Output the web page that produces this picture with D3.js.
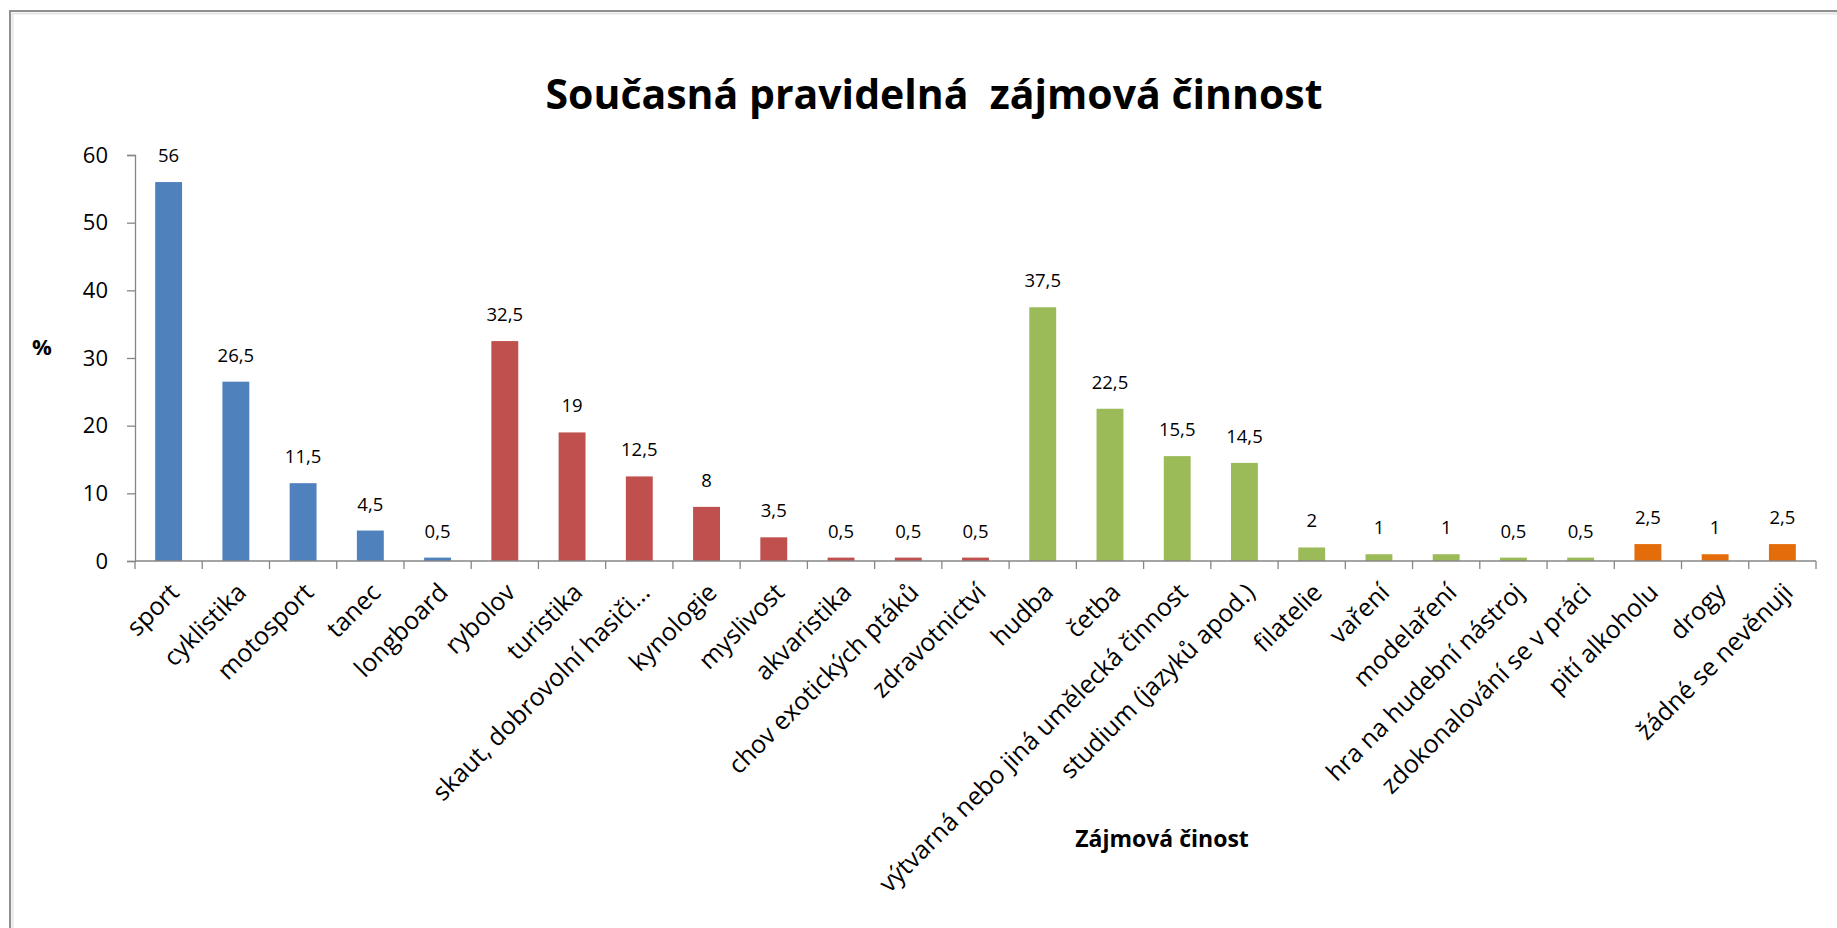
<!DOCTYPE html>
<html>
<head>
<meta charset="utf-8">
<script src="https://cdn.jsdelivr.net/npm/d3@7"></script>
<style>
  html, body { margin: 0; padding: 0; background: #fff; }
  svg { display: block; }
  text { font-family: "Open Sans", "Noto Sans", sans-serif; fill: #000; }
</style>
</head>
<body>
<script>
// ---- data ----
const categories = [
  "sport", "cyklistika", "motosport", "tanec", "longboard",
  "rybolov", "turistika", "skaut, dobrovolní hasiči...", "kynologie", "myslivost",
  "akvaristika", "chov exotických ptáků", "zdravotnictví",
  "hudba", "četba", "výtvarná nebo jiná umělecká činnost", "studium (jazyků apod.)",
  "filatelie", "vaření", "modelaření", "hra na hudební nástroj", "zdokonalování se v práci",
  "pití alkoholu", "drogy", "žádné se nevěnuji"
];
const values = [
  56, 26.5, 11.5, 4.5, 0.5,
  32.5, 19, 12.5, 8, 3.5,
  0.5, 0.5, 0.5,
  37.5, 22.5, 15.5, 14.5,
  2, 1, 1, 0.5, 0.5,
  2.5, 1, 2.5
];
const groups = [
  0, 0, 0, 0, 0,
  1, 1, 1, 1, 1,
  1, 1, 1,
  2, 2, 2, 2,
  2, 2, 2, 2, 2,
  3, 3, 3
];
const groupColors = ["#4F81BD", "#C0504D", "#9BBB59", "#E46C0A"];
const yTicks = [0, 10, 20, 30, 40, 50, 60];
const titleText = "Současná pravidelná\u00A0 zájmová činnost";
const xTitle = "Zájmová činost";
const yTitle = "%";

// ---- layout ----
const W = 1837, H = 928;
const plot = { left: 135, right: 1816, top: 155, bottom: 561 };

const svg = d3.select("body").append("svg").attr("width", W).attr("height", H);

svg.append("rect").attr("x", 0).attr("y", 0).attr("width", W).attr("height", H).attr("fill", "#fff");

// frame (top and left edges visible)
svg.append("path")
  .attr("d", `M10,${H} L10,11 L${W},11`)
  .attr("fill", "none").attr("stroke", "#8f8f8f").attr("stroke-width", 2);
svg.append("path")
  .attr("d", `M12.5,${H} L12.5,13.5 L${W},13.5`)
  .attr("fill", "none").attr("stroke", "#e6e6e6").attr("stroke-width", 2);

const x = d3.scaleBand()
  .domain(categories)
  .range([plot.left, plot.right])
  .paddingInner(0.6)
  .paddingOuter(0.3);

const y = d3.scaleLinear().domain([0, 60]).range([plot.bottom, plot.top]);

// title
svg.append("text")
  .attr("x", 934).attr("y", 109)
  .attr("text-anchor", "middle")
  .attr("font-size", 41).attr("font-weight", "bold")
  .text(titleText);

// bars
const data = categories.map((c, i) => ({ c, v: values[i], g: groups[i] }));
svg.append("g").selectAll("rect").data(data).join("rect")
  .attr("x", d => x(d.c))
  .attr("width", x.bandwidth())
  .attr("y", d => y(d.v))
  .attr("height", d => y(0) - y(d.v))
  .attr("fill", d => groupColors[d.g]);

// data labels
const fmt = v => String(v).replace(".", ",");
svg.append("g").selectAll("text").data(data).join("text")
  .attr("x", d => x(d.c) + x.bandwidth() / 2)
  .attr("y", d => y(d.v) - 20)
  .attr("text-anchor", "middle")
  .attr("font-size", 18.5)
  .text(d => fmt(d.v));

// y axis
const yAxis = svg.append("g")
  .attr("transform", `translate(${plot.left},0)`)
  .call(d3.axisLeft(y).tickValues(yTicks).tickSize(8).tickPadding(19).tickFormat(d3.format("d")));
yAxis.select(".domain").attr("stroke", "#868686").attr("stroke-width", 1.3);
yAxis.selectAll(".tick line").attr("stroke", "#868686").attr("stroke-width", 1.3);
yAxis.selectAll(".tick text")
  .attr("font-family", "'Open Sans', sans-serif")
  .attr("font-size", 22).attr("fill", "#000");

// x axis with ticks at category boundaries
const step = x.step();
const boundaries = categories.map(c => x(c) - step * x.paddingInner() / 2).concat([plot.right]);
const xAxisG = svg.append("g");
xAxisG.append("line")
  .attr("x1", plot.left).attr("x2", plot.right)
  .attr("y1", y(0)).attr("y2", y(0))
  .attr("stroke", "#868686").attr("stroke-width", 1.3);
xAxisG.selectAll("line.t").data(boundaries).join("line")
  .attr("class", "t")
  .attr("x1", d => d).attr("x2", d => d)
  .attr("y1", y(0)).attr("y2", y(0) + 8)
  .attr("stroke", "#868686").attr("stroke-width", 1.3);

// category labels rotated -45
xAxisG.selectAll("text").data(categories).join("text")
  .attr("text-anchor", "end")
  .attr("font-size", 25)
  .attr("transform", c => `translate(${x(c) + x.bandwidth() / 2 + 12},${y(0) + 33}) rotate(-45)`)
  .text(c => c);

// axis titles
svg.append("text")
  .attr("x", 1162).attr("y", 847)
  .attr("text-anchor", "middle")
  .attr("font-size", 23).attr("font-weight", "bold")
  .text(xTitle);

svg.append("text")
  .attr("x", 42).attr("y", 355)
  .attr("text-anchor", "middle")
  .attr("font-size", 22).attr("font-weight", "bold")
  .text(yTitle);
</script>
</body>
</html>
